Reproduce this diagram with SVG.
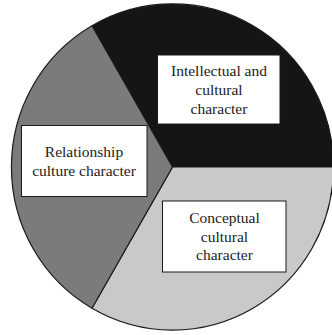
<svg xmlns="http://www.w3.org/2000/svg" width="332" height="335" viewBox="0 0 332 335">
<style>
.sec{stroke:#1a1a1a;stroke-width:1.2;stroke-linejoin:round}
.box{fill:#ffffff;stroke:#1a1a1a;stroke-width:1}
.lbl{font-size:15.5px;fill:#222222;text-anchor:middle}
</style>
<rect width="332" height="335" fill="#ffffff"/>
<g id="sectors">
<path id="sector-intellectual" class="sec" fill="#151515" d="M172.5,167 L92,25.8 A161,163 0 0,1 333.5,167 Z"/>
<path id="sector-conceptual" class="sec" fill="#c9c9c9" d="M172.5,167 L333.5,167 A161,163 0 0,1 92,308.2 Z"/>
<path id="sector-relationship" class="sec" fill="#7b7b7b" d="M172.5,167 L92,308.2 A161,163 0 0,1 92,25.8 Z"/>
</g>
<g font-family="Liberation Serif, Times New Roman, serif">
<g id="intellectual">
<rect class="box" x="157.5" y="55" width="122.5" height="69"/>
<text class="lbl" x="219" y="75.5">Intellectual and</text>
<text class="lbl" x="219" y="94.5">cultural</text>
<text class="lbl" x="219" y="113.5">character</text>
</g>
<g id="relationship">
<rect class="box" x="21.5" y="125.5" width="125.5" height="71"/>
<text class="lbl" x="84" y="156.5">Relationship</text>
<text class="lbl" x="84" y="175.5">culture character</text>
</g>
<g id="conceptual">
<rect class="box" x="162.5" y="201" width="123.5" height="71"/>
<text class="lbl" x="224.5" y="223">Conceptual</text>
<text class="lbl" x="224.5" y="241.5">cultural</text>
<text class="lbl" x="224.5" y="260">character</text>
</g>
</g>
</svg>
